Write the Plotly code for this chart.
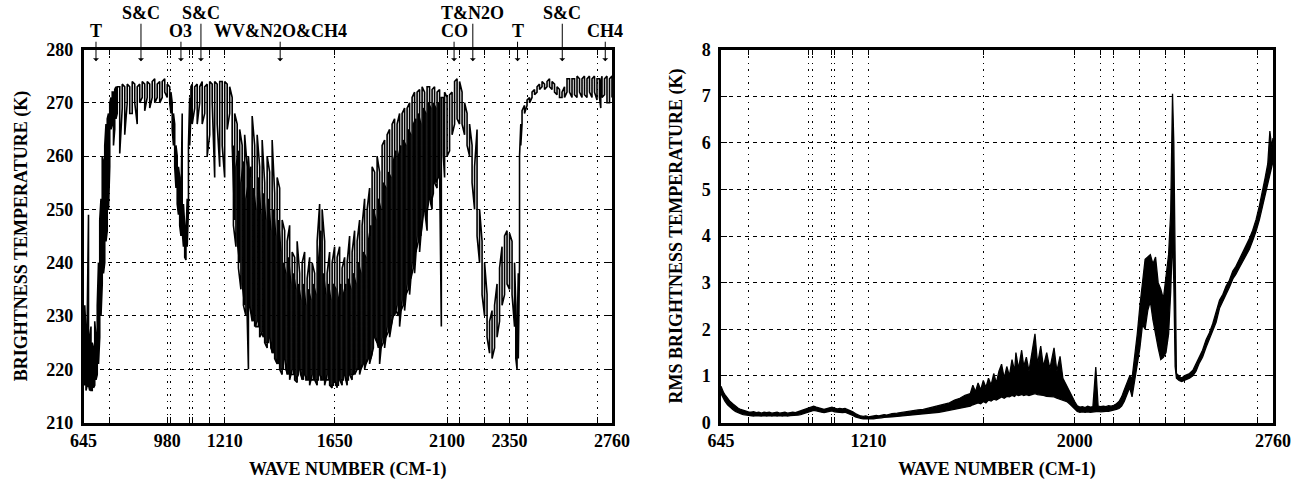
import plotly.graph_objects as go

# ---------------- data: left panel (brightness temperature, K) ----------------
bt_wn = [645, 650, 655, 660, 665, 670, 675, 680, 685, 690, 695, 700, 705, 710, 715, 720, 725, 730, 735, 740,
         745, 750, 755, 760, 765, 770, 775, 780, 790, 800, 810, 820, 830, 840, 850, 860, 870, 880, 890, 900,
         910, 920, 930, 940, 950, 960, 970, 980, 990, 995, 1000, 1005, 1010, 1015, 1020, 1025, 1030, 1035, 1040, 1045,
         1050, 1055, 1060, 1065, 1070, 1075, 1080, 1090, 1100, 1110, 1120, 1130, 1140, 1150, 1160, 1170, 1180, 1190, 1200, 1210,
         1220, 1230, 1240, 1250, 1260, 1270, 1280, 1290, 1300, 1305, 1310, 1320, 1330, 1340, 1350, 1360, 1370, 1380, 1390, 1400,
         1410, 1420, 1430, 1440, 1450, 1460, 1470, 1480, 1490, 1500, 1510, 1520, 1530, 1540, 1550, 1560, 1570, 1580, 1590, 1600,
         1610, 1620, 1630, 1640, 1650, 1660, 1670, 1680, 1690, 1700, 1710, 1720, 1730, 1740, 1750, 1760, 1770, 1780, 1790, 1800,
         1810, 1820, 1830, 1840, 1850, 1860, 1870, 1880, 1890, 1900, 1910, 1920, 1930, 1940, 1950, 1960, 1970, 1980, 1990, 2000,
         2010, 2020, 2030, 2040, 2050, 2060, 2070, 2077, 2085, 2090, 2100, 2110, 2120, 2130, 2140, 2150, 2160, 2170, 2180, 2190,
         2200, 2210, 2220, 2230, 2240, 2250, 2260, 2270, 2280, 2290, 2300, 2310, 2320, 2330, 2340, 2350, 2360, 2370, 2375, 2380,
         2385, 2390, 2395, 2400, 2410, 2420, 2430, 2440, 2450, 2460, 2470, 2480, 2490, 2500, 2510, 2520, 2530, 2540, 2550, 2560,
         2570, 2580, 2590, 2600, 2610, 2620, 2630, 2640, 2650, 2660, 2670, 2680, 2690, 2700, 2710, 2715, 2720, 2730, 2740, 2750,
         2760]
bt_hi = [229, 232, 227, 230, 249, 226, 228, 225, 224, 229, 226, 232, 240, 248, 252, 260, 259, 262, 266, 267,
         268, 270, 271, 272, 272, 272.5, 273, 273, 273, 273.5, 273, 273.5, 273, 274, 273.5, 273, 273.5, 274, 273.5, 274,
         273.5, 274, 274.5, 273.5, 274, 274, 274.5, 273.5, 273, 272, 270, 268, 266, 262, 260, 258, 256, 250, 268, 251,
         247, 245, 252, 262, 271, 273, 273.5, 273, 273.5, 273, 274, 273, 273.5, 274, 273.5, 274, 273.5, 274, 274, 274,
         273.5, 273, 271, 268, 266, 265, 262, 264, 258, 260, 256, 267.5, 262, 264, 258, 263, 255, 260, 257, 263,
         253, 256, 254, 248, 246, 244, 247, 242, 241, 244, 238, 240, 242, 237, 241, 240, 238, 244, 251, 250,
         244, 238, 242, 240, 243, 241, 243, 239, 241, 240, 245, 242, 246, 244, 248, 247, 252, 250, 254, 258,
         257, 260, 257, 262, 263, 264, 265, 266, 267, 266, 268, 268, 269, 269, 270, 271, 272, 272, 272.5, 273,
         272, 273, 273, 272.5, 273, 272, 272.5, 271, 271, 272, 271, 271.5, 272, 274, 274.5, 274, 272, 270, 268, 266,
         262, 258, 265, 250, 244, 240, 234, 229, 231, 232, 236, 239, 243, 245, 246, 245.5, 244, 240, 232, 226,
         238, 260, 266, 268.5, 269.5, 270.5, 271, 272, 272.5, 273, 273.5, 274, 273.5, 274, 274.5, 274, 273.5, 273, 272.5, 272,
         273, 274.5, 274.5, 274.5, 274.5, 275, 274.5, 274.5, 275, 274.5, 275, 274.5, 275, 274.5, 274.5, 274, 275, 274.5, 275, 274.5,
         275]
bt_lo = [218, 217, 216, 217, 217, 216, 216, 216, 216.5, 217, 218, 219, 221, 226, 230, 236, 238, 240, 244, 246,
         250, 258, 265, 266, 262, 265, 267, 268, 260.5, 269, 264, 270, 268, 268, 270, 266, 270, 271, 268.5, 271,
         269, 271, 270, 271, 270, 271, 272, 271, 270, 268, 265, 262, 258, 254, 251, 249, 247, 245, 246, 243,
         241, 240.5, 243, 250, 262, 268, 266, 269, 266, 270, 266, 268, 260, 264, 270, 256, 266, 258, 262, 256,
         265, 268, 262, 248, 244, 240, 236, 232, 230, 220, 232, 229, 228, 229, 226, 227, 225, 224, 226, 223,
         222, 221, 220, 219, 222, 219, 218, 220, 218, 217.5, 220, 218, 219, 218, 217, 219, 218, 217, 219, 218,
         217, 219, 217, 216.5, 218, 216.5, 218, 217, 219, 217, 219, 218, 219, 220, 219, 221, 220, 222, 221, 223,
         226, 225, 221, 226, 224, 228, 226, 229, 230, 232, 228, 233, 231, 236, 234, 240, 238, 245, 242, 248,
         250, 246, 252, 250, 255, 254, 258, 228, 260, 256, 260, 261, 264, 266, 267, 266, 266, 264, 262, 260,
         255, 250, 245, 240, 234, 230, 226, 223, 222, 224, 226, 229, 232, 234, 236, 235, 234, 228, 222, 220,
         222, 240, 262, 266, 268, 269.5, 270, 271, 271.5, 272, 272.5, 273, 272.5, 273, 273, 272.5, 272, 271.5, 271, 271,
         271, 272, 272, 271, 271.5, 271, 272, 271, 271.5, 271, 272, 271, 272, 270.5, 271, 269, 271, 271.5, 270, 270,
         271]

# weaker lines lying between the samples above, in the dense water-vapour region
bt2_wn = [1245, 1255, 1265, 1275, 1285, 1295, 1315, 1325, 1335, 1345, 1355, 1365, 1375, 1385, 1395,
          1405, 1415, 1425, 1435, 1445, 1455, 1465, 1475, 1485, 1495, 1505, 1515, 1525, 1535, 1545,
          1555, 1565, 1575, 1585, 1595, 1605, 1615, 1625, 1635, 1645, 1655, 1665, 1675, 1685, 1695,
          1705, 1715, 1725, 1735, 1745, 1755, 1765, 1775, 1785, 1795, 1805, 1815, 1825, 1835, 1845,
          1855, 1865, 1875, 1885, 1895, 1905, 1915, 1925, 1935, 1945, 1955, 1965, 1975, 1985, 1995,
          2005, 2015, 2025, 2035, 2045, 2055, 2065]
bt2_hi = [262, 258, 261, 255, 259, 252, 258, 254, 250, 256, 249, 253, 248, 252, 246,
          250, 245, 248, 242, 240, 238, 241, 236, 238, 235, 236, 233, 236, 232, 235,
          233, 236, 234, 240, 246, 238, 234, 236, 233, 236, 235, 233, 236, 234, 236,
          237, 235, 238, 236, 240, 238, 242, 241, 244, 247, 250, 248, 252, 250, 255,
          254, 257, 256, 259, 261, 260, 262, 263, 262, 265, 264, 266, 267, 268, 266,
          269, 268, 270, 269, 270, 269, 270]
bt2_lo = [247, 243, 239, 235, 232, 230, 231, 229, 228, 228, 227, 226, 225, 225, 224,
          223, 222, 221, 220, 220, 220, 219, 219, 219, 218, 219, 219, 218, 218, 218,
          218, 218, 218, 218, 218, 218, 218, 218, 217, 217, 217, 217, 218, 218, 218,
          218, 219, 219, 220, 220, 220, 221, 221, 222, 222, 224, 226, 224, 224, 225,
          226, 227, 228, 230, 231, 230, 231, 232, 234, 235, 237, 239, 242, 244, 245,
          249, 248, 251, 251, 253, 255, 256]

# ---------------- data: right panel (RMS brightness temperature, K) ----------------
rms_wn = [645, 650, 655, 660, 670, 680, 690, 700, 710, 720, 730, 740, 750, 760, 770, 780, 790, 800, 810, 820,
          830, 840, 850, 860, 870, 880, 890, 900, 910, 920, 930, 940, 950, 960, 970, 980, 990, 1000, 1010, 1020,
          1030, 1040, 1050, 1060, 1070, 1080, 1090, 1100, 1110, 1120, 1130, 1140, 1150, 1160, 1170, 1180, 1190, 1200, 1210, 1220,
          1230, 1240, 1250, 1260, 1270, 1280, 1290, 1300, 1320, 1340, 1360, 1380, 1400, 1420, 1440, 1460, 1480, 1500, 1520, 1540,
          1560, 1580, 1600, 1610, 1620, 1630, 1640, 1650, 1660, 1670, 1680, 1690, 1700, 1710, 1720, 1730, 1740, 1750, 1760, 1770,
          1775, 1785, 1797, 1805, 1815, 1825, 1835, 1848, 1858, 1870, 1880, 1893, 1905, 1921, 1932, 1944, 1955, 1970, 1980, 1990,
          2000, 2010, 2020, 2030, 2040, 2050, 2060, 2070, 2081, 2090, 2100, 2110, 2120, 2130, 2140, 2150, 2160, 2170, 2180, 2190,
          2200, 2211, 2220, 2230, 2240, 2250, 2260, 2270, 2280, 2290, 2300, 2310, 2320, 2330, 2340, 2350, 2360, 2368, 2375, 2380,
          2385, 2390, 2400, 2410, 2420, 2430, 2440, 2453, 2465, 2478, 2490, 2504, 2516, 2529, 2542, 2555, 2568, 2580, 2593, 2606,
          2618, 2631, 2644, 2657, 2670, 2682, 2695, 2708, 2720, 2730, 2740, 2748, 2755, 2760]
rms_hi = [0.78, 0.70, 0.64, 0.60, 0.52, 0.45, 0.40, 0.35, 0.31, 0.28, 0.26, 0.25, 0.23, 0.22, 0.23, 0.21, 0.22, 0.20, 0.22, 0.21,
          0.22, 0.20, 0.21, 0.22, 0.20, 0.21, 0.22, 0.20, 0.21, 0.22, 0.21, 0.23, 0.24, 0.26, 0.28, 0.31, 0.33, 0.35, 0.33, 0.31,
          0.29, 0.28, 0.30, 0.32, 0.33, 0.31, 0.29, 0.30, 0.29, 0.30, 0.28, 0.26, 0.23, 0.19, 0.16, 0.14, 0.13, 0.14, 0.12, 0.13,
          0.14, 0.15, 0.14, 0.16, 0.17, 0.16, 0.18, 0.19, 0.20, 0.22, 0.23, 0.25, 0.27, 0.28, 0.31, 0.33, 0.36, 0.39, 0.42, 0.48,
          0.52, 0.58, 0.62, 0.80, 0.66, 0.85, 0.70, 0.90, 0.75, 0.95, 0.80, 1.05, 0.85, 1.10, 1.25, 0.95, 1.20, 1.00, 1.35, 1.10,
          1.50, 1.15, 1.55, 1.20, 1.40, 1.10, 1.45, 1.90, 1.25, 1.64, 1.20, 1.50, 1.15, 1.60, 1.10, 1.42, 0.95, 0.78, 0.65, 0.55,
          0.45, 0.36, 0.33, 0.34, 0.32, 0.35, 0.33, 0.34, 1.19, 0.35, 0.34, 0.35, 0.34, 0.36, 0.35, 0.37, 0.40, 0.45, 0.55, 0.70,
          0.85, 1.00, 0.95, 1.40, 1.90, 2.50, 3.00, 3.50, 3.55, 3.60, 3.40, 3.55, 3.00, 2.86, 2.65, 3.10, 3.60, 4.50, 7.05, 6.00,
          3.00, 1.05, 1.00, 0.95, 1.00, 1.02, 1.05, 1.12, 1.25, 1.40, 1.55, 1.78, 1.92, 2.12, 2.35, 2.62, 2.75, 2.92, 3.05, 3.25,
          3.35, 3.50, 3.62, 3.78, 3.95, 4.12, 4.35, 4.65, 4.95, 5.25, 5.55, 6.25, 5.90, 6.10]
rms_lo = [0.62, 0.56, 0.50, 0.46, 0.38, 0.32, 0.28, 0.24, 0.21, 0.19, 0.17, 0.16, 0.15, 0.15, 0.14, 0.15, 0.14, 0.14, 0.15, 0.14,
          0.15, 0.14, 0.15, 0.14, 0.15, 0.14, 0.15, 0.14, 0.15, 0.15, 0.16, 0.16, 0.17, 0.19, 0.21, 0.23, 0.25, 0.26, 0.25, 0.23,
          0.22, 0.21, 0.22, 0.24, 0.25, 0.23, 0.22, 0.22, 0.21, 0.22, 0.20, 0.18, 0.15, 0.12, 0.10, 0.09, 0.08, 0.08, 0.07, 0.08,
          0.08, 0.09, 0.09, 0.10, 0.11, 0.11, 0.12, 0.12, 0.13, 0.14, 0.15, 0.16, 0.17, 0.18, 0.19, 0.21, 0.22, 0.24, 0.26, 0.28,
          0.30, 0.33, 0.35, 0.38, 0.40, 0.42, 0.40, 0.45, 0.42, 0.48, 0.46, 0.50, 0.48, 0.52, 0.55, 0.52, 0.56, 0.55, 0.58, 0.56,
          0.60, 0.58, 0.60, 0.58, 0.60, 0.58, 0.60, 0.62, 0.60, 0.58, 0.58, 0.56, 0.55, 0.55, 0.52, 0.50, 0.48, 0.45, 0.40, 0.35,
          0.28, 0.24, 0.22, 0.23, 0.22, 0.23, 0.22, 0.23, 0.24, 0.24, 0.23, 0.24, 0.24, 0.24, 0.25, 0.26, 0.28, 0.30, 0.35, 0.45,
          0.60, 0.75, 0.55, 0.90, 1.20, 1.60, 2.10, 2.00, 2.40, 2.60, 2.20, 1.85, 1.60, 1.35, 1.40, 1.50, 1.90, 2.80, 4.00, 3.00,
          1.20, 0.95, 0.90, 0.88, 0.90, 0.92, 0.95, 1.00, 1.10, 1.28, 1.40, 1.62, 1.78, 1.98, 2.15, 2.45, 2.60, 2.75, 2.90, 3.08,
          3.18, 3.32, 3.45, 3.58, 3.72, 3.90, 4.10, 4.35, 4.65, 4.90, 5.10, 5.30, 5.50, 5.60]

# ---------------- axis ticks / labels ----------------
left_xlabels = [645, 980, 1210, 1650, 2100, 2350, 2760]
right_xlabels = [645, 1210, 2000, 2760]
grid_wn = [750, 980, 995, 1070, 1080, 1150, 1210, 1650, 2100, 2150, 2250, 2350, 2420, 2700]
right_extra_grid = [2000]

arrow_wn = [695, 875, 1035, 1115, 1432, 2128, 2203, 2382, 2561, 2733]
arrow_text = ["T", "S&C", "O3", "S&C", "WV&N2O&CH4", "CO", "T&N2O", "T", "S&C", "CH4"]
arrow_row = [0, 1, 0, 1, 0, 0, 1, 0, 1, 0]


def forest(wn, hi, lo):
    xs, ys = [], []
    for i, (w, h, l) in enumerate(zip(wn, hi, lo)):
        xs += [w, w]
        ys += [h, l] if i % 2 == 0 else [l, h]
    return xs, ys


FONT = "Liberation Serif"
W, H = 1305, 480

fig = go.Figure()
for wn_, hi_, lo_ in ((bt_wn, bt_hi, bt_lo), (bt2_wn, bt2_hi, bt2_lo)):
    fx, fy = forest(wn_, hi_, lo_)
    fig.add_trace(go.Scatter(x=fx, y=fy, mode="lines", line=dict(color="black", width=1.6),
                             xaxis="x", yaxis="y", showlegend=False, hoverinfo="skip"))
# RMS: noisy band drawn as the area between its upper and lower readings
fig.add_trace(go.Scatter(x=rms_wn, y=rms_hi, mode="lines", line=dict(color="black", width=1.3),
                         xaxis="x2", yaxis="y2", showlegend=False, hoverinfo="skip"))
fig.add_trace(go.Scatter(x=rms_wn, y=rms_lo, mode="lines", line=dict(color="black", width=1.3),
                         fill="tonexty", fillcolor="black",
                         xaxis="x2", yaxis="y2", showlegend=False, hoverinfo="skip"))


def xticks(labels, grid):
    vals = sorted(set(labels) | set(grid))
    return vals, [str(v) if v in labels else "" for v in vals]


lv, lt = xticks(left_xlabels, grid_wn)
rv, rt = xticks(right_xlabels, grid_wn + right_extra_grid)

FS = 18
tickfont = dict(family=FONT, size=FS, color="black", weight="bold")
titlefont = dict(family=FONT, size=FS, color="black", weight="bold")

common_x = dict(range=[645, 2760], showline=True, linewidth=2.5, linecolor="black", mirror="ticks",
                ticks="inside", ticklen=6, tickwidth=1, tickcolor="black", automargin=False,
                showgrid=True, gridcolor="black", gridwidth=1, griddash="1.5px,5px",
                zeroline=False, tickfont=tickfont, tickmode="array", ticklabelstandoff=0)
common_y = dict(showline=True, linewidth=2.5, linecolor="black", mirror="ticks",
                ticks="inside", ticklen=6, tickwidth=1, tickcolor="black", automargin=False,
                showgrid=True, gridcolor="black", gridwidth=1, griddash="4px,4px",
                zeroline=False, tickfont=tickfont, ticklabelstandoff=4)

ydom = [(H - 422.5) / H, (H - 49.5) / H]
fig.update_layout(
    width=W, height=H, margin=dict(l=0, r=0, t=0, b=0, autoexpand=False),
    paper_bgcolor="white", plot_bgcolor="white",
    xaxis=dict(common_x, domain=[83.5 / W, 612 / W], tickvals=lv, ticktext=lt, anchor="y",
               title=dict(text="WAVE NUMBER (CM-1)", font=titlefont, standoff=18)),
    yaxis=dict(common_y, domain=ydom, range=[210, 280], dtick=10, tick0=210, anchor="x",
               title=dict(text="BRIGHTNESS TEMPERATURE (K)", font=titlefont, standoff=14)),
    xaxis2=dict(common_x, domain=[721 / W, 1273 / W], tickvals=rv, ticktext=rt, anchor="y2",
                title=dict(text="WAVE NUMBER (CM-1)", font=titlefont, standoff=18)),
    yaxis2=dict(common_y, domain=ydom, range=[0, 8], dtick=1, tick0=0, anchor="x2",
                title=dict(text="RMS BRIGHTNESS TEMPERATURE (K)", font=titlefont, standoff=15)),
)

for w, t, r in zip(arrow_wn, arrow_text, arrow_row):
    fig.add_annotation(x=w, y=277.8, xref="x", yref="y", text=t, showarrow=True,
                       ax=0, ay=-30 if r == 0 else -48, arrowhead=1, arrowsize=1, arrowwidth=1,
                       arrowcolor="black", font=dict(family=FONT, size=FS, color="black", weight="bold"),
                       borderpad=0)

fig.write_html("out.html")
